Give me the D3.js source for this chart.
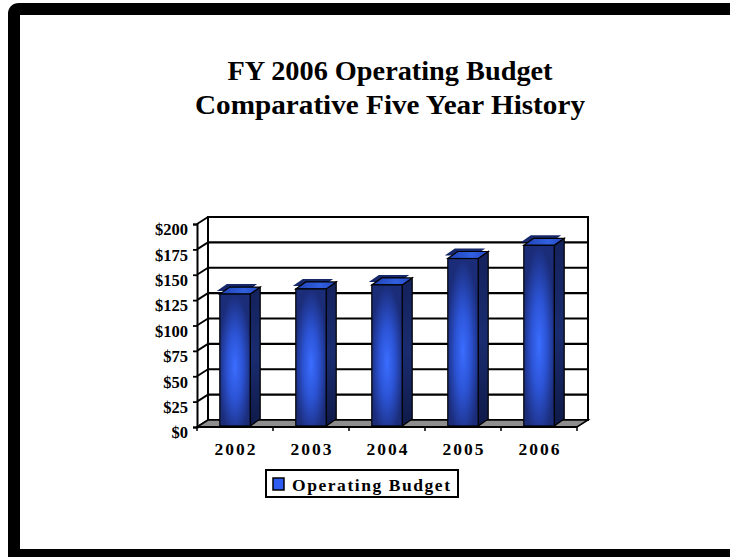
<!DOCTYPE html>
<html>
<head>
<meta charset="utf-8">
<script src="https://cdn.jsdelivr.net/npm/d3@7"></script>
<style>
  html, body { margin: 0; padding: 0; background: #fff; overflow: hidden; }
  svg { display: block; }
  text { font-family: "Liberation Serif", "Times New Roman", serif; font-weight: bold; fill: #000; }
</style>
</head>
<body>
<svg id="chart" width="730" height="557"></svg>
<script>
// Operating budget by fiscal year ($ millions)
const years = ["2002", "2003", "2004", "2005", "2006"];
const budget = [131, 136, 140, 166, 179];
const yTicks = [0, 25, 50, 75, 100, 125, 150, 175, 200];
const seriesName = "Operating Budget";
const titleLines = ["FY 2006 Operating Budget", "Comparative Five Year History"];

const svg = d3.select("#chart");

// Page background
svg.append("rect").attr("width", 730).attr("height", 557).attr("fill", "#fff");

// Slide frame: left, top and bottom edges (the right edge runs off the page)
svg.append("path")
  .attr("d", "M 770 9 H 19 Q 14 9 14 14 V 555 H 770")
  .attr("fill", "none").attr("stroke", "#000").attr("stroke-width", 12);

// Title
const titleWidths = [325, 390];
const titleBaselines = [80, 114];
titleLines.forEach((t, i) => {
  svg.append("text")
    .attr("x", 390).attr("y", titleBaselines[i])
    .attr("text-anchor", "middle")
    .attr("font-size", 27)
    .attr("textLength", titleWidths[i])
    .attr("lengthAdjust", "spacingAndGlyphs")
    .text(t);
});

// Plot geometry: front plane scales plus a depth offset for the back wall
const x = d3.scaleBand().domain(years).range([197, 577]).padding(0);
const y = d3.scaleLinear().domain([0, 200]).range([427, 224]);
const DX = 11, DY = -7;       // floor depth
const BDX = 10, BDY = -7;     // bar depth
const barW = x.bandwidth() * 0.4;

const defs = svg.append("defs");
const gFront = defs.append("radialGradient").attr("id", "barFront")
  .attr("cx", 0.5).attr("cy", 0.55).attr("r", 0.55);
gFront.append("stop").attr("offset", 0).attr("stop-color", "#3b6dff");
gFront.append("stop").attr("offset", 0.45).attr("stop-color", "#2c54d6");
gFront.append("stop").attr("offset", 1).attr("stop-color", "#1b2c78");

const gSide = defs.append("linearGradient").attr("id", "barSide")
  .attr("x1", 0).attr("y1", 0).attr("x2", 0).attr("y2", 1);
gSide.append("stop").attr("offset", 0).attr("stop-color", "#14225c");
gSide.append("stop").attr("offset", 0.5).attr("stop-color", "#1a2c70");
gSide.append("stop").attr("offset", 1).attr("stop-color", "#0f1a48");

const gTop = defs.append("linearGradient").attr("id", "barTop")
  .attr("x1", 0).attr("y1", 0).attr("x2", 1).attr("y2", 0);
gTop.append("stop").attr("offset", 0).attr("stop-color", "#2042b4");
gTop.append("stop").attr("offset", 0.6).attr("stop-color", "#3160e0");
gTop.append("stop").attr("offset", 1).attr("stop-color", "#2448c0");

const x0 = x.range()[0], x1 = x.range()[1];
const pt = (a, b) => a + "," + b;

// Back wall with gridlines
const back = svg.append("g");
back.append("rect")
  .attr("x", x0 + DX).attr("y", y(200) + DY)
  .attr("width", x1 - x0).attr("height", y(0) - y(200))
  .attr("fill", "#fff").attr("stroke", "#000").attr("stroke-width", 2);
back.selectAll("line.grid").data(yTicks.slice(1, -1)).enter().append("line")
  .attr("x1", x0 + DX).attr("x2", x1 + DX)
  .attr("y1", d => y(d) + DY).attr("y2", d => y(d) + DY)
  .attr("stroke", "#000").attr("stroke-width", 2.2);

// Side wall lines joining the front axis to the back wall
svg.selectAll("line.side").data(yTicks).enter().append("line")
  .attr("x1", x0).attr("y1", d => y(d))
  .attr("x2", x0 + DX).attr("y2", d => y(d) + DY)
  .attr("stroke", "#000").attr("stroke-width", 1.8);

// Floor
svg.append("polygon")
  .attr("points", [pt(x0, y(0)), pt(x1, y(0)), pt(x1 + DX, y(0) + DY), pt(x0 + DX, y(0) + DY)].join(" "))
  .attr("fill", "#8e8e8e").attr("stroke", "#000").attr("stroke-width", 1.5);

// Bars
const bars = svg.selectAll("g.bar").data(years.map((c, i) => ({ c, v: budget[i] })))
  .enter().append("g");
bars.each(function (d) {
  const g = d3.select(this);
  const bx0 = x(d.c) + (x.bandwidth() - barW) / 2;
  const bx1 = bx0 + barW;
  const yt = y(d.v), yb = y(0) - 1;
  // shadowed rim behind the top face
  g.append("polygon")
    .attr("points", [pt(bx0 - 3, yt - 3), pt(bx1 - 3, yt - 3), pt(bx1 + BDX - 3, yt + BDY - 3), pt(bx0 + BDX - 3, yt + BDY - 3)].join(" "))
    .attr("fill", "#16276a");
  g.append("polygon")
    .attr("points", [pt(bx1, yt), pt(bx1 + BDX, yt + BDY), pt(bx1 + BDX, yb + BDY), pt(bx1, yb)].join(" "))
    .attr("fill", "url(#barSide)").attr("stroke", "#000").attr("stroke-width", 1.2);
  g.append("polygon")
    .attr("points", [pt(bx0, yt), pt(bx1, yt), pt(bx1 + BDX, yt + BDY), pt(bx0 + BDX, yt + BDY)].join(" "))
    .attr("fill", "url(#barTop)").attr("stroke", "#000").attr("stroke-width", 1.2);
  g.append("rect")
    .attr("x", bx0).attr("y", yt).attr("width", barW).attr("height", yb - yt)
    .attr("fill", "url(#barFront)").attr("stroke", "#000").attr("stroke-width", 1.2);
});

// Front value axis
const yAxis = d3.axisLeft(y).tickValues(yTicks).tickSize(4).tickPadding(5)
  .tickFormat(d => "$" + d);
const ya = svg.append("g").attr("transform", `translate(${x0},0)`).call(yAxis);
ya.select(".domain").attr("stroke", "#000").attr("stroke-width", 2);
ya.selectAll(".tick line").attr("stroke", "#000").attr("stroke-width", 1.8);
ya.selectAll(".tick text")
  .attr("font-family", "Liberation Serif, Times New Roman, serif")
  .attr("font-weight", "bold").attr("font-size", 16.5).attr("fill", "#000")
  .attr("dy", "0.9em").attr("y", -4);

// Category axis along the front edge of the floor
svg.append("line")
  .attr("x1", x0).attr("x2", x1).attr("y1", y(0)).attr("y2", y(0))
  .attr("stroke", "#000").attr("stroke-width", 2);
const edges = years.map(c => x(c)).concat([x1]);
svg.selectAll("line.xt").data(edges).enter().append("line")
  .attr("x1", d => d).attr("x2", d => d)
  .attr("y1", y(0)).attr("y2", y(0) + 4)
  .attr("stroke", "#000").attr("stroke-width", 1.5);
svg.selectAll("text.xl").data(years).enter().append("text")
  .attr("x", d => x(d) + x.bandwidth() / 2 + 1).attr("y", 455)
  .attr("text-anchor", "middle").attr("font-size", 17.5)
  .attr("letter-spacing", 2)
  .text(d => d);

// Legend
const lg = svg.append("g");
lg.append("rect").attr("x", 266).attr("y", 470).attr("width", 192).attr("height", 27)
  .attr("fill", "#fff").attr("stroke", "#000").attr("stroke-width", 2);
lg.append("rect").attr("x", 273).attr("y", 478).attr("width", 11).attr("height", 12)
  .attr("fill", "#2f5cf0").attr("stroke", "#000").attr("stroke-width", 1.5);
lg.append("text").attr("x", 292).attr("y", 491)
  .attr("font-size", 17.5)
  .attr("textLength", 158).attr("lengthAdjust", "spacing")
  .text(seriesName);
</script>
</body>
</html>
